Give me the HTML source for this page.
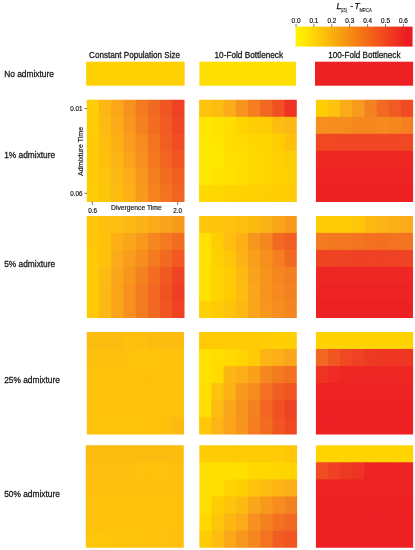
<!DOCTYPE html>
<html><head><meta charset="utf-8"><title>Figure</title>
<style>html,body{margin:0;padding:0;background:#fff}svg{display:block}text{font-family:"Liberation Sans",sans-serif;fill:#1a1718;stroke:#1a1718;stroke-width:0.2px;stroke-linejoin:round}</style></head><body>
<svg width="415" height="550" viewBox="0 0 415 550">
<rect width="415" height="550" fill="#fff"/>
<defs><linearGradient id="cb" x1="0" x2="1" y1="0" y2="0">
<stop offset="3%" stop-color="#fff200"/><stop offset="95%" stop-color="#ed1c24"/>
</linearGradient></defs>
<rect x="295.6" y="26.6" width="117.0" height="20.0" fill="url(#cb)"/>
<line x1="296.0" x2="296.0" y1="24.0" y2="26.9" stroke="#231f20" style="stroke-width:0.6px"/>
<line x1="313.9" x2="313.9" y1="24.0" y2="26.9" stroke="#231f20" style="stroke-width:0.6px"/>
<line x1="331.8" x2="331.8" y1="24.0" y2="26.9" stroke="#231f20" style="stroke-width:0.6px"/>
<line x1="349.7" x2="349.7" y1="24.0" y2="26.9" stroke="#231f20" style="stroke-width:0.6px"/>
<line x1="367.6" x2="367.6" y1="24.0" y2="26.9" stroke="#231f20" style="stroke-width:0.6px"/>
<line x1="385.5" x2="385.5" y1="24.0" y2="26.9" stroke="#231f20" style="stroke-width:0.6px"/>
<line x1="403.4" x2="403.4" y1="24.0" y2="26.9" stroke="#231f20" style="stroke-width:0.6px"/>
<rect x="86.2" y="61.7" width="98.45" height="24.00" fill="#ffd002"/>
<rect x="199.4" y="61.7" width="96.60" height="24.00" fill="#ffdf00"/>
<rect x="315.0" y="61.7" width="98.10" height="24.00" fill="#ed2024"/>
<clipPath id="k00"><rect x="86.8" y="99.8" width="97.70" height="102.10"/></clipPath>
<g clip-path="url(#k00)" opacity="0.999">
<rect x="84.80" y="97.80" width="15.41" height="20.22" fill="#ffcd04"/>
<rect x="99.01" y="97.80" width="13.41" height="20.22" fill="#fdb714"/>
<rect x="111.22" y="97.80" width="13.41" height="20.22" fill="#faa819"/>
<rect x="123.44" y="97.80" width="13.41" height="20.22" fill="#f7921d"/>
<rect x="135.65" y="97.80" width="13.41" height="20.22" fill="#f47a20"/>
<rect x="147.86" y="97.80" width="13.41" height="20.22" fill="#f26921"/>
<rect x="160.07" y="97.80" width="13.41" height="20.22" fill="#f15522"/>
<rect x="172.29" y="97.80" width="14.21" height="20.22" fill="#ef4123"/>
<rect x="84.80" y="116.82" width="15.41" height="18.22" fill="#ffcd04"/>
<rect x="99.01" y="116.82" width="13.41" height="18.22" fill="#fdbb12"/>
<rect x="111.22" y="116.82" width="13.41" height="18.22" fill="#fbac18"/>
<rect x="123.44" y="116.82" width="13.41" height="18.22" fill="#f8981c"/>
<rect x="135.65" y="116.82" width="13.41" height="18.22" fill="#f58220"/>
<rect x="147.86" y="116.82" width="13.41" height="18.22" fill="#f36d21"/>
<rect x="160.07" y="116.82" width="13.41" height="18.22" fill="#f15a22"/>
<rect x="172.29" y="116.82" width="14.21" height="18.22" fill="#ef4623"/>
<rect x="84.80" y="133.83" width="15.41" height="18.22" fill="#ffcb05"/>
<rect x="99.01" y="133.83" width="13.41" height="18.22" fill="#febe0f"/>
<rect x="111.22" y="133.83" width="13.41" height="18.22" fill="#fcb016"/>
<rect x="123.44" y="133.83" width="13.41" height="18.22" fill="#f89d1c"/>
<rect x="135.65" y="133.83" width="13.41" height="18.22" fill="#f68b1e"/>
<rect x="147.86" y="133.83" width="13.41" height="18.22" fill="#f37321"/>
<rect x="160.07" y="133.83" width="13.41" height="18.22" fill="#f15e22"/>
<rect x="172.29" y="133.83" width="14.21" height="18.22" fill="#f04e22"/>
<rect x="84.80" y="150.85" width="15.41" height="18.22" fill="#ffcb05"/>
<rect x="99.01" y="150.85" width="13.41" height="18.22" fill="#fec00d"/>
<rect x="111.22" y="150.85" width="13.41" height="18.22" fill="#fcb514"/>
<rect x="123.44" y="150.85" width="13.41" height="18.22" fill="#faa41a"/>
<rect x="135.65" y="150.85" width="13.41" height="18.22" fill="#f7901e"/>
<rect x="147.86" y="150.85" width="13.41" height="18.22" fill="#f47820"/>
<rect x="160.07" y="150.85" width="13.41" height="18.22" fill="#f26422"/>
<rect x="172.29" y="150.85" width="14.21" height="18.22" fill="#f15522"/>
<rect x="84.80" y="167.87" width="15.41" height="18.22" fill="#ffcb05"/>
<rect x="99.01" y="167.87" width="13.41" height="18.22" fill="#fec40b"/>
<rect x="111.22" y="167.87" width="13.41" height="18.22" fill="#fdb913"/>
<rect x="123.44" y="167.87" width="13.41" height="18.22" fill="#fbac18"/>
<rect x="135.65" y="167.87" width="13.41" height="18.22" fill="#f7961d"/>
<rect x="147.86" y="167.87" width="13.41" height="18.22" fill="#f57e20"/>
<rect x="160.07" y="167.87" width="13.41" height="18.22" fill="#f36d21"/>
<rect x="172.29" y="167.87" width="14.21" height="18.22" fill="#f15e22"/>
<rect x="84.80" y="184.88" width="15.41" height="19.02" fill="#ffcd04"/>
<rect x="99.01" y="184.88" width="13.41" height="19.02" fill="#fec609"/>
<rect x="111.22" y="184.88" width="13.41" height="19.02" fill="#fdbd10"/>
<rect x="123.44" y="184.88" width="13.41" height="19.02" fill="#fcb116"/>
<rect x="135.65" y="184.88" width="13.41" height="19.02" fill="#f89b1c"/>
<rect x="147.86" y="184.88" width="13.41" height="19.02" fill="#f58420"/>
<rect x="160.07" y="184.88" width="13.41" height="19.02" fill="#f37321"/>
<rect x="172.29" y="184.88" width="14.21" height="19.02" fill="#f26422"/>
</g>
<clipPath id="k01"><rect x="199.1" y="99.8" width="97.70" height="102.10"/></clipPath>
<g clip-path="url(#k01)" opacity="0.999">
<rect x="197.10" y="97.80" width="15.41" height="20.22" fill="#fec40b"/>
<rect x="211.31" y="97.80" width="13.41" height="20.22" fill="#fdbd10"/>
<rect x="223.53" y="97.80" width="13.41" height="20.22" fill="#fbac18"/>
<rect x="235.74" y="97.80" width="13.41" height="20.22" fill="#f7941d"/>
<rect x="247.95" y="97.80" width="13.41" height="20.22" fill="#f57e20"/>
<rect x="260.16" y="97.80" width="13.41" height="20.22" fill="#f26721"/>
<rect x="272.38" y="97.80" width="13.41" height="20.22" fill="#f05022"/>
<rect x="284.59" y="97.80" width="14.21" height="20.22" fill="#ee3223"/>
<rect x="197.10" y="116.82" width="15.41" height="18.22" fill="#ffe600"/>
<rect x="211.31" y="116.82" width="13.41" height="18.22" fill="#ffe200"/>
<rect x="223.53" y="116.82" width="13.41" height="18.22" fill="#ffdd00"/>
<rect x="235.74" y="116.82" width="13.41" height="18.22" fill="#ffd400"/>
<rect x="247.95" y="116.82" width="13.41" height="18.22" fill="#ffcd04"/>
<rect x="260.16" y="116.82" width="13.41" height="18.22" fill="#ffcb05"/>
<rect x="272.38" y="116.82" width="13.41" height="18.22" fill="#fdbd10"/>
<rect x="284.59" y="116.82" width="14.21" height="18.22" fill="#fdb913"/>
<rect x="197.10" y="133.83" width="15.41" height="18.22" fill="#ffe800"/>
<rect x="211.31" y="133.83" width="13.41" height="18.22" fill="#ffe600"/>
<rect x="223.53" y="133.83" width="13.41" height="18.22" fill="#ffdd00"/>
<rect x="235.74" y="133.83" width="13.41" height="18.22" fill="#ffdb00"/>
<rect x="247.95" y="133.83" width="13.41" height="18.22" fill="#ffd600"/>
<rect x="260.16" y="133.83" width="13.41" height="18.22" fill="#ffd400"/>
<rect x="272.38" y="133.83" width="13.41" height="18.22" fill="#ffcd04"/>
<rect x="284.59" y="133.83" width="14.21" height="18.22" fill="#fec00d"/>
<rect x="197.10" y="150.85" width="15.41" height="18.22" fill="#ffe800"/>
<rect x="211.31" y="150.85" width="13.41" height="18.22" fill="#ffe800"/>
<rect x="223.53" y="150.85" width="13.41" height="18.22" fill="#ffdf00"/>
<rect x="235.74" y="150.85" width="13.41" height="18.22" fill="#ffdd00"/>
<rect x="247.95" y="150.85" width="13.41" height="18.22" fill="#ffd800"/>
<rect x="260.16" y="150.85" width="13.41" height="18.22" fill="#ffd600"/>
<rect x="272.38" y="150.85" width="13.41" height="18.22" fill="#ffd002"/>
<rect x="284.59" y="150.85" width="14.21" height="18.22" fill="#ffcd04"/>
<rect x="197.10" y="167.87" width="15.41" height="18.22" fill="#ffe800"/>
<rect x="211.31" y="167.87" width="13.41" height="18.22" fill="#ffe100"/>
<rect x="223.53" y="167.87" width="13.41" height="18.22" fill="#ffe100"/>
<rect x="235.74" y="167.87" width="13.41" height="18.22" fill="#ffdd00"/>
<rect x="247.95" y="167.87" width="13.41" height="18.22" fill="#ffd800"/>
<rect x="260.16" y="167.87" width="13.41" height="18.22" fill="#ffd600"/>
<rect x="272.38" y="167.87" width="13.41" height="18.22" fill="#ffd002"/>
<rect x="284.59" y="167.87" width="14.21" height="18.22" fill="#ffcf03"/>
<rect x="197.10" y="184.88" width="15.41" height="19.02" fill="#ffd800"/>
<rect x="211.31" y="184.88" width="13.41" height="19.02" fill="#ffd800"/>
<rect x="223.53" y="184.88" width="13.41" height="19.02" fill="#ffd400"/>
<rect x="235.74" y="184.88" width="13.41" height="19.02" fill="#ffd201"/>
<rect x="247.95" y="184.88" width="13.41" height="19.02" fill="#ffd002"/>
<rect x="260.16" y="184.88" width="13.41" height="19.02" fill="#ffcf03"/>
<rect x="272.38" y="184.88" width="13.41" height="19.02" fill="#ffcd04"/>
<rect x="284.59" y="184.88" width="14.21" height="19.02" fill="#ffcb05"/>
</g>
<clipPath id="k02"><rect x="315.9" y="99.8" width="97.20" height="102.10"/></clipPath>
<g clip-path="url(#k02)" opacity="0.999">
<rect x="313.90" y="97.80" width="15.35" height="20.22" fill="#ffcd04"/>
<rect x="328.05" y="97.80" width="13.35" height="20.22" fill="#fec20c"/>
<rect x="340.20" y="97.80" width="13.35" height="20.22" fill="#fbaa19"/>
<rect x="352.35" y="97.80" width="13.35" height="20.22" fill="#f89b1c"/>
<rect x="364.50" y="97.80" width="13.35" height="20.22" fill="#f58220"/>
<rect x="376.65" y="97.80" width="13.35" height="20.22" fill="#f26921"/>
<rect x="388.80" y="97.80" width="13.35" height="20.22" fill="#f15a22"/>
<rect x="400.95" y="97.80" width="14.15" height="20.22" fill="#f04b23"/>
<rect x="313.90" y="116.82" width="15.35" height="18.22" fill="#f68f1e"/>
<rect x="328.05" y="116.82" width="13.35" height="18.22" fill="#f68d1e"/>
<rect x="340.20" y="116.82" width="13.35" height="18.22" fill="#f68b1e"/>
<rect x="352.35" y="116.82" width="13.35" height="18.22" fill="#f6871f"/>
<rect x="364.50" y="116.82" width="13.35" height="18.22" fill="#f6871f"/>
<rect x="376.65" y="116.82" width="13.35" height="18.22" fill="#f6891f"/>
<rect x="388.80" y="116.82" width="13.35" height="18.22" fill="#f6871f"/>
<rect x="400.95" y="116.82" width="14.15" height="18.22" fill="#f57e20"/>
<rect x="313.90" y="133.83" width="15.35" height="18.22" fill="#f04823"/>
<rect x="328.05" y="133.83" width="13.35" height="18.22" fill="#f04823"/>
<rect x="340.20" y="133.83" width="13.35" height="18.22" fill="#ef4623"/>
<rect x="352.35" y="133.83" width="13.35" height="18.22" fill="#ef4623"/>
<rect x="364.50" y="133.83" width="13.35" height="18.22" fill="#ef4623"/>
<rect x="376.65" y="133.83" width="13.35" height="18.22" fill="#ef4623"/>
<rect x="388.80" y="133.83" width="13.35" height="18.22" fill="#ef4623"/>
<rect x="400.95" y="133.83" width="14.15" height="18.22" fill="#f04823"/>
<rect x="313.90" y="150.85" width="15.35" height="18.22" fill="#ee2724"/>
<rect x="328.05" y="150.85" width="13.35" height="18.22" fill="#ee2724"/>
<rect x="340.20" y="150.85" width="13.35" height="18.22" fill="#ee2724"/>
<rect x="352.35" y="150.85" width="13.35" height="18.22" fill="#ee2724"/>
<rect x="364.50" y="150.85" width="13.35" height="18.22" fill="#ee2724"/>
<rect x="376.65" y="150.85" width="13.35" height="18.22" fill="#ee2724"/>
<rect x="388.80" y="150.85" width="13.35" height="18.22" fill="#ee2724"/>
<rect x="400.95" y="150.85" width="14.15" height="18.22" fill="#ee2724"/>
<rect x="313.90" y="167.87" width="15.35" height="18.22" fill="#ed2324"/>
<rect x="328.05" y="167.87" width="13.35" height="18.22" fill="#ed2324"/>
<rect x="340.20" y="167.87" width="13.35" height="18.22" fill="#ed2324"/>
<rect x="352.35" y="167.87" width="13.35" height="18.22" fill="#ed2324"/>
<rect x="364.50" y="167.87" width="13.35" height="18.22" fill="#ed2324"/>
<rect x="376.65" y="167.87" width="13.35" height="18.22" fill="#ed2324"/>
<rect x="388.80" y="167.87" width="13.35" height="18.22" fill="#ed2324"/>
<rect x="400.95" y="167.87" width="14.15" height="18.22" fill="#ed2324"/>
<rect x="313.90" y="184.88" width="15.35" height="19.02" fill="#ed2024"/>
<rect x="328.05" y="184.88" width="13.35" height="19.02" fill="#ed2024"/>
<rect x="340.20" y="184.88" width="13.35" height="19.02" fill="#ed2024"/>
<rect x="352.35" y="184.88" width="13.35" height="19.02" fill="#ed2024"/>
<rect x="364.50" y="184.88" width="13.35" height="19.02" fill="#ed2024"/>
<rect x="376.65" y="184.88" width="13.35" height="19.02" fill="#ed2024"/>
<rect x="388.80" y="184.88" width="13.35" height="19.02" fill="#ed2024"/>
<rect x="400.95" y="184.88" width="14.15" height="19.02" fill="#ed2024"/>
</g>
<clipPath id="k10"><rect x="86.8" y="215.9" width="97.70" height="102.00"/></clipPath>
<g clip-path="url(#k10)" opacity="0.999">
<rect x="84.80" y="213.90" width="15.41" height="20.20" fill="#ffc708"/>
<rect x="99.01" y="213.90" width="13.41" height="20.20" fill="#fec00d"/>
<rect x="111.22" y="213.90" width="13.41" height="20.20" fill="#febe0f"/>
<rect x="123.44" y="213.90" width="13.41" height="20.20" fill="#fdb913"/>
<rect x="135.65" y="213.90" width="13.41" height="20.20" fill="#fcb315"/>
<rect x="147.86" y="213.90" width="13.41" height="20.20" fill="#fbaa19"/>
<rect x="160.07" y="213.90" width="13.41" height="20.20" fill="#f9a21b"/>
<rect x="172.29" y="213.90" width="14.21" height="20.20" fill="#f89b1c"/>
<rect x="84.80" y="232.90" width="15.41" height="18.20" fill="#ffc708"/>
<rect x="99.01" y="232.90" width="13.41" height="18.20" fill="#fec20c"/>
<rect x="111.22" y="232.90" width="13.41" height="18.20" fill="#fcb016"/>
<rect x="123.44" y="232.90" width="13.41" height="18.20" fill="#faa61a"/>
<rect x="135.65" y="232.90" width="13.41" height="18.20" fill="#f8991c"/>
<rect x="147.86" y="232.90" width="13.41" height="18.20" fill="#f6871f"/>
<rect x="160.07" y="232.90" width="13.41" height="18.20" fill="#f47a20"/>
<rect x="172.29" y="232.90" width="14.21" height="18.20" fill="#f36d21"/>
<rect x="84.80" y="249.90" width="15.41" height="18.20" fill="#ffc906"/>
<rect x="99.01" y="249.90" width="13.41" height="18.20" fill="#fec20c"/>
<rect x="111.22" y="249.90" width="13.41" height="18.20" fill="#fbaa19"/>
<rect x="123.44" y="249.90" width="13.41" height="18.20" fill="#f89d1c"/>
<rect x="135.65" y="249.90" width="13.41" height="18.20" fill="#f68d1e"/>
<rect x="147.86" y="249.90" width="13.41" height="18.20" fill="#f47a20"/>
<rect x="160.07" y="249.90" width="13.41" height="18.20" fill="#f26921"/>
<rect x="172.29" y="249.90" width="14.21" height="18.20" fill="#f15822"/>
<rect x="84.80" y="266.90" width="15.41" height="18.20" fill="#ffc906"/>
<rect x="99.01" y="266.90" width="13.41" height="18.20" fill="#fdbb12"/>
<rect x="111.22" y="266.90" width="13.41" height="18.20" fill="#faa61a"/>
<rect x="123.44" y="266.90" width="13.41" height="18.20" fill="#f7961d"/>
<rect x="135.65" y="266.90" width="13.41" height="18.20" fill="#f58220"/>
<rect x="147.86" y="266.90" width="13.41" height="18.20" fill="#f36d21"/>
<rect x="160.07" y="266.90" width="13.41" height="18.20" fill="#f15822"/>
<rect x="172.29" y="266.90" width="14.21" height="18.20" fill="#ef4423"/>
<rect x="84.80" y="283.90" width="15.41" height="18.20" fill="#ffc906"/>
<rect x="99.01" y="283.90" width="13.41" height="18.20" fill="#fdb913"/>
<rect x="111.22" y="283.90" width="13.41" height="18.20" fill="#faa41a"/>
<rect x="123.44" y="283.90" width="13.41" height="18.20" fill="#f7901e"/>
<rect x="135.65" y="283.90" width="13.41" height="18.20" fill="#f47a20"/>
<rect x="147.86" y="283.90" width="13.41" height="18.20" fill="#f26721"/>
<rect x="160.07" y="283.90" width="13.41" height="18.20" fill="#f05222"/>
<rect x="172.29" y="283.90" width="14.21" height="18.20" fill="#ef3d23"/>
<rect x="84.80" y="300.90" width="15.41" height="19.00" fill="#ffc906"/>
<rect x="99.01" y="300.90" width="13.41" height="19.00" fill="#fdb913"/>
<rect x="111.22" y="300.90" width="13.41" height="19.00" fill="#faa41a"/>
<rect x="123.44" y="300.90" width="13.41" height="19.00" fill="#f7901e"/>
<rect x="135.65" y="300.90" width="13.41" height="19.00" fill="#f47c20"/>
<rect x="147.86" y="300.90" width="13.41" height="19.00" fill="#f26921"/>
<rect x="160.07" y="300.90" width="13.41" height="19.00" fill="#f15522"/>
<rect x="172.29" y="300.90" width="14.21" height="19.00" fill="#ef4123"/>
</g>
<clipPath id="k11"><rect x="199.1" y="215.9" width="97.70" height="102.00"/></clipPath>
<g clip-path="url(#k11)" opacity="0.999">
<rect x="197.10" y="213.90" width="15.41" height="20.20" fill="#fec609"/>
<rect x="211.31" y="213.90" width="13.41" height="20.20" fill="#fec40b"/>
<rect x="223.53" y="213.90" width="13.41" height="20.20" fill="#fec20c"/>
<rect x="235.74" y="213.90" width="13.41" height="20.20" fill="#febe0f"/>
<rect x="247.95" y="213.90" width="13.41" height="20.20" fill="#fdbb12"/>
<rect x="260.16" y="213.90" width="13.41" height="20.20" fill="#fcb315"/>
<rect x="272.38" y="213.90" width="13.41" height="20.20" fill="#faa61a"/>
<rect x="284.59" y="213.90" width="14.21" height="20.20" fill="#f89b1c"/>
<rect x="197.10" y="232.90" width="15.41" height="18.20" fill="#ffe100"/>
<rect x="211.31" y="232.90" width="13.41" height="18.20" fill="#ffcd04"/>
<rect x="223.53" y="232.90" width="13.41" height="18.20" fill="#febe0f"/>
<rect x="235.74" y="232.90" width="13.41" height="18.20" fill="#fcb016"/>
<rect x="247.95" y="232.90" width="13.41" height="18.20" fill="#f7961d"/>
<rect x="260.16" y="232.90" width="13.41" height="18.20" fill="#f6871f"/>
<rect x="272.38" y="232.90" width="13.41" height="18.20" fill="#f26921"/>
<rect x="284.59" y="232.90" width="14.21" height="18.20" fill="#f15e22"/>
<rect x="197.10" y="249.90" width="15.41" height="18.20" fill="#ffe100"/>
<rect x="211.31" y="249.90" width="13.41" height="18.20" fill="#ffd002"/>
<rect x="223.53" y="249.90" width="13.41" height="18.20" fill="#fec609"/>
<rect x="235.74" y="249.90" width="13.41" height="18.20" fill="#fcb315"/>
<rect x="247.95" y="249.90" width="13.41" height="18.20" fill="#f99f1b"/>
<rect x="260.16" y="249.90" width="13.41" height="18.20" fill="#f68f1e"/>
<rect x="272.38" y="249.90" width="13.41" height="18.20" fill="#f57e20"/>
<rect x="284.59" y="249.90" width="14.21" height="18.20" fill="#f26921"/>
<rect x="197.10" y="266.90" width="15.41" height="18.20" fill="#ffe100"/>
<rect x="211.31" y="266.90" width="13.41" height="18.20" fill="#ffd400"/>
<rect x="223.53" y="266.90" width="13.41" height="18.20" fill="#ffcb05"/>
<rect x="235.74" y="266.90" width="13.41" height="18.20" fill="#fdbb12"/>
<rect x="247.95" y="266.90" width="13.41" height="18.20" fill="#f9a21b"/>
<rect x="260.16" y="266.90" width="13.41" height="18.20" fill="#f7921d"/>
<rect x="272.38" y="266.90" width="13.41" height="18.20" fill="#f6871f"/>
<rect x="284.59" y="266.90" width="14.21" height="18.20" fill="#f57e20"/>
<rect x="197.10" y="283.90" width="15.41" height="18.20" fill="#ffe100"/>
<rect x="211.31" y="283.90" width="13.41" height="18.20" fill="#ffd400"/>
<rect x="223.53" y="283.90" width="13.41" height="18.20" fill="#ffcb05"/>
<rect x="235.74" y="283.90" width="13.41" height="18.20" fill="#fdbd10"/>
<rect x="247.95" y="283.90" width="13.41" height="18.20" fill="#faa61a"/>
<rect x="260.16" y="283.90" width="13.41" height="18.20" fill="#f7941d"/>
<rect x="272.38" y="283.90" width="13.41" height="18.20" fill="#f6891f"/>
<rect x="284.59" y="283.90" width="14.21" height="18.20" fill="#f58220"/>
<rect x="197.10" y="300.90" width="15.41" height="19.00" fill="#ffd002"/>
<rect x="211.31" y="300.90" width="13.41" height="19.00" fill="#ffcb05"/>
<rect x="223.53" y="300.90" width="13.41" height="19.00" fill="#fec40b"/>
<rect x="235.74" y="300.90" width="13.41" height="19.00" fill="#fdb913"/>
<rect x="247.95" y="300.90" width="13.41" height="19.00" fill="#faa41a"/>
<rect x="260.16" y="300.90" width="13.41" height="19.00" fill="#f7961d"/>
<rect x="272.38" y="300.90" width="13.41" height="19.00" fill="#f68d1e"/>
<rect x="284.59" y="300.90" width="14.21" height="19.00" fill="#f5861f"/>
</g>
<clipPath id="k12"><rect x="315.9" y="215.9" width="97.20" height="102.00"/></clipPath>
<g clip-path="url(#k12)" opacity="0.999">
<rect x="313.90" y="213.90" width="15.35" height="20.20" fill="#ffcb05"/>
<rect x="328.05" y="213.90" width="13.35" height="20.20" fill="#ffcb05"/>
<rect x="340.20" y="213.90" width="13.35" height="20.20" fill="#ffc906"/>
<rect x="352.35" y="213.90" width="13.35" height="20.20" fill="#fec609"/>
<rect x="364.50" y="213.90" width="13.35" height="20.20" fill="#fdbb12"/>
<rect x="376.65" y="213.90" width="13.35" height="20.20" fill="#fcb315"/>
<rect x="388.80" y="213.90" width="13.35" height="20.20" fill="#fcb016"/>
<rect x="400.95" y="213.90" width="14.15" height="20.20" fill="#fbaa19"/>
<rect x="313.90" y="232.90" width="15.35" height="18.20" fill="#f47a20"/>
<rect x="328.05" y="232.90" width="13.35" height="18.20" fill="#f47820"/>
<rect x="340.20" y="232.90" width="13.35" height="18.20" fill="#f47721"/>
<rect x="352.35" y="232.90" width="13.35" height="18.20" fill="#f47521"/>
<rect x="364.50" y="232.90" width="13.35" height="18.20" fill="#f37121"/>
<rect x="376.65" y="232.90" width="13.35" height="18.20" fill="#f36f21"/>
<rect x="388.80" y="232.90" width="13.35" height="18.20" fill="#f37321"/>
<rect x="400.95" y="232.90" width="14.15" height="18.20" fill="#f47521"/>
<rect x="313.90" y="249.90" width="15.35" height="18.20" fill="#ef4423"/>
<rect x="328.05" y="249.90" width="13.35" height="18.20" fill="#ef4423"/>
<rect x="340.20" y="249.90" width="13.35" height="18.20" fill="#ef4123"/>
<rect x="352.35" y="249.90" width="13.35" height="18.20" fill="#ef4123"/>
<rect x="364.50" y="249.90" width="13.35" height="18.20" fill="#ef4123"/>
<rect x="376.65" y="249.90" width="13.35" height="18.20" fill="#ef4123"/>
<rect x="388.80" y="249.90" width="13.35" height="18.20" fill="#ef4123"/>
<rect x="400.95" y="249.90" width="14.15" height="18.20" fill="#ef4423"/>
<rect x="313.90" y="266.90" width="15.35" height="18.20" fill="#ee2724"/>
<rect x="328.05" y="266.90" width="13.35" height="18.20" fill="#ee2724"/>
<rect x="340.20" y="266.90" width="13.35" height="18.20" fill="#ee2724"/>
<rect x="352.35" y="266.90" width="13.35" height="18.20" fill="#ee2724"/>
<rect x="364.50" y="266.90" width="13.35" height="18.20" fill="#ee2724"/>
<rect x="376.65" y="266.90" width="13.35" height="18.20" fill="#ee2724"/>
<rect x="388.80" y="266.90" width="13.35" height="18.20" fill="#ee2724"/>
<rect x="400.95" y="266.90" width="14.15" height="18.20" fill="#ee2724"/>
<rect x="313.90" y="283.90" width="15.35" height="18.20" fill="#ed2324"/>
<rect x="328.05" y="283.90" width="13.35" height="18.20" fill="#ed2324"/>
<rect x="340.20" y="283.90" width="13.35" height="18.20" fill="#ed2324"/>
<rect x="352.35" y="283.90" width="13.35" height="18.20" fill="#ed2324"/>
<rect x="364.50" y="283.90" width="13.35" height="18.20" fill="#ed2324"/>
<rect x="376.65" y="283.90" width="13.35" height="18.20" fill="#ed2324"/>
<rect x="388.80" y="283.90" width="13.35" height="18.20" fill="#ed2324"/>
<rect x="400.95" y="283.90" width="14.15" height="18.20" fill="#ed2324"/>
<rect x="313.90" y="300.90" width="15.35" height="19.00" fill="#ed2024"/>
<rect x="328.05" y="300.90" width="13.35" height="19.00" fill="#ed2024"/>
<rect x="340.20" y="300.90" width="13.35" height="19.00" fill="#ed2024"/>
<rect x="352.35" y="300.90" width="13.35" height="19.00" fill="#ed2024"/>
<rect x="364.50" y="300.90" width="13.35" height="19.00" fill="#ed2024"/>
<rect x="376.65" y="300.90" width="13.35" height="19.00" fill="#ed2024"/>
<rect x="388.80" y="300.90" width="13.35" height="19.00" fill="#ed2024"/>
<rect x="400.95" y="300.90" width="14.15" height="19.00" fill="#ed2024"/>
</g>
<clipPath id="k20"><rect x="86.8" y="331.9" width="97.20" height="102.50"/></clipPath>
<g clip-path="url(#k20)" opacity="0.999">
<rect x="84.80" y="329.90" width="15.35" height="20.28" fill="#fdbd10"/>
<rect x="98.95" y="329.90" width="13.35" height="20.28" fill="#fdbd10"/>
<rect x="111.10" y="329.90" width="13.35" height="20.28" fill="#fdbd10"/>
<rect x="123.25" y="329.90" width="13.35" height="20.28" fill="#fec00d"/>
<rect x="135.40" y="329.90" width="13.35" height="20.28" fill="#fec00d"/>
<rect x="147.55" y="329.90" width="13.35" height="20.28" fill="#fdbd10"/>
<rect x="159.70" y="329.90" width="13.35" height="20.28" fill="#fdbd10"/>
<rect x="171.85" y="329.90" width="14.15" height="20.28" fill="#fdbd10"/>
<rect x="84.80" y="348.98" width="15.35" height="18.28" fill="#fec00d"/>
<rect x="98.95" y="348.98" width="13.35" height="18.28" fill="#fec00d"/>
<rect x="111.10" y="348.98" width="13.35" height="18.28" fill="#fec00d"/>
<rect x="123.25" y="348.98" width="13.35" height="18.28" fill="#fec20c"/>
<rect x="135.40" y="348.98" width="13.35" height="18.28" fill="#fec40b"/>
<rect x="147.55" y="348.98" width="13.35" height="18.28" fill="#fec20c"/>
<rect x="159.70" y="348.98" width="13.35" height="18.28" fill="#fec20c"/>
<rect x="171.85" y="348.98" width="14.15" height="18.28" fill="#fec20c"/>
<rect x="84.80" y="366.07" width="15.35" height="18.28" fill="#fec20c"/>
<rect x="98.95" y="366.07" width="13.35" height="18.28" fill="#fec20c"/>
<rect x="111.10" y="366.07" width="13.35" height="18.28" fill="#fec20c"/>
<rect x="123.25" y="366.07" width="13.35" height="18.28" fill="#fec20c"/>
<rect x="135.40" y="366.07" width="13.35" height="18.28" fill="#fec20c"/>
<rect x="147.55" y="366.07" width="13.35" height="18.28" fill="#fec20c"/>
<rect x="159.70" y="366.07" width="13.35" height="18.28" fill="#fec20c"/>
<rect x="171.85" y="366.07" width="14.15" height="18.28" fill="#fec20c"/>
<rect x="84.80" y="383.15" width="15.35" height="18.28" fill="#fec20c"/>
<rect x="98.95" y="383.15" width="13.35" height="18.28" fill="#fec20c"/>
<rect x="111.10" y="383.15" width="13.35" height="18.28" fill="#fec20c"/>
<rect x="123.25" y="383.15" width="13.35" height="18.28" fill="#fec20c"/>
<rect x="135.40" y="383.15" width="13.35" height="18.28" fill="#fec20c"/>
<rect x="147.55" y="383.15" width="13.35" height="18.28" fill="#fec20c"/>
<rect x="159.70" y="383.15" width="13.35" height="18.28" fill="#fec20c"/>
<rect x="171.85" y="383.15" width="14.15" height="18.28" fill="#fec20c"/>
<rect x="84.80" y="400.23" width="15.35" height="18.28" fill="#fec20c"/>
<rect x="98.95" y="400.23" width="13.35" height="18.28" fill="#fec20c"/>
<rect x="111.10" y="400.23" width="13.35" height="18.28" fill="#fec20c"/>
<rect x="123.25" y="400.23" width="13.35" height="18.28" fill="#fec20c"/>
<rect x="135.40" y="400.23" width="13.35" height="18.28" fill="#fec20c"/>
<rect x="147.55" y="400.23" width="13.35" height="18.28" fill="#fec20c"/>
<rect x="159.70" y="400.23" width="13.35" height="18.28" fill="#fec20c"/>
<rect x="171.85" y="400.23" width="14.15" height="18.28" fill="#fec20c"/>
<rect x="84.80" y="417.32" width="15.35" height="19.08" fill="#fec40b"/>
<rect x="98.95" y="417.32" width="13.35" height="19.08" fill="#fec40b"/>
<rect x="111.10" y="417.32" width="13.35" height="19.08" fill="#fec40b"/>
<rect x="123.25" y="417.32" width="13.35" height="19.08" fill="#fec40b"/>
<rect x="135.40" y="417.32" width="13.35" height="19.08" fill="#fec20c"/>
<rect x="147.55" y="417.32" width="13.35" height="19.08" fill="#fec20c"/>
<rect x="159.70" y="417.32" width="13.35" height="19.08" fill="#fec00d"/>
<rect x="171.85" y="417.32" width="14.15" height="19.08" fill="#fdbb12"/>
</g>
<clipPath id="k21"><rect x="199.1" y="331.9" width="97.70" height="102.50"/></clipPath>
<g clip-path="url(#k21)" opacity="0.999">
<rect x="197.10" y="329.90" width="15.41" height="20.28" fill="#ffc906"/>
<rect x="211.31" y="329.90" width="13.41" height="20.28" fill="#ffcb05"/>
<rect x="223.53" y="329.90" width="13.41" height="20.28" fill="#ffcb05"/>
<rect x="235.74" y="329.90" width="13.41" height="20.28" fill="#ffcb05"/>
<rect x="247.95" y="329.90" width="13.41" height="20.28" fill="#ffcb05"/>
<rect x="260.16" y="329.90" width="13.41" height="20.28" fill="#ffcd04"/>
<rect x="272.38" y="329.90" width="13.41" height="20.28" fill="#ffcf03"/>
<rect x="284.59" y="329.90" width="14.21" height="20.28" fill="#ffcf03"/>
<rect x="197.10" y="348.98" width="15.41" height="18.28" fill="#ffe100"/>
<rect x="211.31" y="348.98" width="13.41" height="18.28" fill="#ffdd00"/>
<rect x="223.53" y="348.98" width="13.41" height="18.28" fill="#ffd900"/>
<rect x="235.74" y="348.98" width="13.41" height="18.28" fill="#ffd400"/>
<rect x="247.95" y="348.98" width="13.41" height="18.28" fill="#ffcb05"/>
<rect x="260.16" y="348.98" width="13.41" height="18.28" fill="#fcb514"/>
<rect x="272.38" y="348.98" width="13.41" height="18.28" fill="#fbae17"/>
<rect x="284.59" y="348.98" width="14.21" height="18.28" fill="#faa61a"/>
<rect x="197.10" y="366.07" width="15.41" height="18.28" fill="#ffe100"/>
<rect x="211.31" y="366.07" width="13.41" height="18.28" fill="#ffdb00"/>
<rect x="223.53" y="366.07" width="13.41" height="18.28" fill="#fdb714"/>
<rect x="235.74" y="366.07" width="13.41" height="18.28" fill="#fbae17"/>
<rect x="247.95" y="366.07" width="13.41" height="18.28" fill="#f9a11b"/>
<rect x="260.16" y="366.07" width="13.41" height="18.28" fill="#f6871f"/>
<rect x="272.38" y="366.07" width="13.41" height="18.28" fill="#f47a20"/>
<rect x="284.59" y="366.07" width="14.21" height="18.28" fill="#f37121"/>
<rect x="197.10" y="383.15" width="15.41" height="18.28" fill="#ffdf00"/>
<rect x="211.31" y="383.15" width="13.41" height="18.28" fill="#fec40b"/>
<rect x="223.53" y="383.15" width="13.41" height="18.28" fill="#fcb116"/>
<rect x="235.74" y="383.15" width="13.41" height="18.28" fill="#f89b1c"/>
<rect x="247.95" y="383.15" width="13.41" height="18.28" fill="#f68b1e"/>
<rect x="260.16" y="383.15" width="13.41" height="18.28" fill="#f37121"/>
<rect x="272.38" y="383.15" width="13.41" height="18.28" fill="#f15e22"/>
<rect x="284.59" y="383.15" width="14.21" height="18.28" fill="#f15522"/>
<rect x="197.10" y="400.23" width="15.41" height="18.28" fill="#ffdd00"/>
<rect x="211.31" y="400.23" width="13.41" height="18.28" fill="#fdbd10"/>
<rect x="223.53" y="400.23" width="13.41" height="18.28" fill="#faa61a"/>
<rect x="235.74" y="400.23" width="13.41" height="18.28" fill="#f7941d"/>
<rect x="247.95" y="400.23" width="13.41" height="18.28" fill="#f58220"/>
<rect x="260.16" y="400.23" width="13.41" height="18.28" fill="#f26422"/>
<rect x="272.38" y="400.23" width="13.41" height="18.28" fill="#f05022"/>
<rect x="284.59" y="400.23" width="14.21" height="18.28" fill="#ef4123"/>
<rect x="197.10" y="417.32" width="15.41" height="19.08" fill="#ffc708"/>
<rect x="211.31" y="417.32" width="13.41" height="19.08" fill="#fcb514"/>
<rect x="223.53" y="417.32" width="13.41" height="19.08" fill="#faa41a"/>
<rect x="235.74" y="417.32" width="13.41" height="19.08" fill="#f7941d"/>
<rect x="247.95" y="417.32" width="13.41" height="19.08" fill="#f57e20"/>
<rect x="260.16" y="417.32" width="13.41" height="19.08" fill="#f36b21"/>
<rect x="272.38" y="417.32" width="13.41" height="19.08" fill="#f15522"/>
<rect x="284.59" y="417.32" width="14.21" height="19.08" fill="#f04823"/>
</g>
<clipPath id="k22"><rect x="315.9" y="331.9" width="97.20" height="102.50"/></clipPath>
<g clip-path="url(#k22)" opacity="0.999">
<rect x="313.90" y="329.90" width="15.35" height="20.28" fill="#ffd201"/>
<rect x="328.05" y="329.90" width="13.35" height="20.28" fill="#ffd201"/>
<rect x="340.20" y="329.90" width="13.35" height="20.28" fill="#ffd201"/>
<rect x="352.35" y="329.90" width="13.35" height="20.28" fill="#ffd201"/>
<rect x="364.50" y="329.90" width="13.35" height="20.28" fill="#ffd201"/>
<rect x="376.65" y="329.90" width="13.35" height="20.28" fill="#ffd201"/>
<rect x="388.80" y="329.90" width="13.35" height="20.28" fill="#ffd201"/>
<rect x="400.95" y="329.90" width="14.15" height="20.28" fill="#ffd201"/>
<rect x="313.90" y="348.98" width="15.35" height="18.28" fill="#f26721"/>
<rect x="328.05" y="348.98" width="13.35" height="18.28" fill="#f15522"/>
<rect x="340.20" y="348.98" width="13.35" height="18.28" fill="#f04823"/>
<rect x="352.35" y="348.98" width="13.35" height="18.28" fill="#ef4123"/>
<rect x="364.50" y="348.98" width="13.35" height="18.28" fill="#ef3a23"/>
<rect x="376.65" y="348.98" width="13.35" height="18.28" fill="#ee3623"/>
<rect x="388.80" y="348.98" width="13.35" height="18.28" fill="#ee3623"/>
<rect x="400.95" y="348.98" width="14.15" height="18.28" fill="#ee3623"/>
<rect x="313.90" y="366.07" width="15.35" height="18.28" fill="#ee3223"/>
<rect x="328.05" y="366.07" width="13.35" height="18.28" fill="#ee2b24"/>
<rect x="340.20" y="366.07" width="13.35" height="18.28" fill="#ee2724"/>
<rect x="352.35" y="366.07" width="13.35" height="18.28" fill="#ee2724"/>
<rect x="364.50" y="366.07" width="13.35" height="18.28" fill="#ee2724"/>
<rect x="376.65" y="366.07" width="13.35" height="18.28" fill="#ee2724"/>
<rect x="388.80" y="366.07" width="13.35" height="18.28" fill="#ee2724"/>
<rect x="400.95" y="366.07" width="14.15" height="18.28" fill="#ee2724"/>
<rect x="313.90" y="383.15" width="15.35" height="18.28" fill="#ed2324"/>
<rect x="328.05" y="383.15" width="13.35" height="18.28" fill="#ed2324"/>
<rect x="340.20" y="383.15" width="13.35" height="18.28" fill="#ed2324"/>
<rect x="352.35" y="383.15" width="13.35" height="18.28" fill="#ed2324"/>
<rect x="364.50" y="383.15" width="13.35" height="18.28" fill="#ed2324"/>
<rect x="376.65" y="383.15" width="13.35" height="18.28" fill="#ed2324"/>
<rect x="388.80" y="383.15" width="13.35" height="18.28" fill="#ed2324"/>
<rect x="400.95" y="383.15" width="14.15" height="18.28" fill="#ed2324"/>
<rect x="313.90" y="400.23" width="15.35" height="18.28" fill="#ed2024"/>
<rect x="328.05" y="400.23" width="13.35" height="18.28" fill="#ed2024"/>
<rect x="340.20" y="400.23" width="13.35" height="18.28" fill="#ed2024"/>
<rect x="352.35" y="400.23" width="13.35" height="18.28" fill="#ed2024"/>
<rect x="364.50" y="400.23" width="13.35" height="18.28" fill="#ed2024"/>
<rect x="376.65" y="400.23" width="13.35" height="18.28" fill="#ed2024"/>
<rect x="388.80" y="400.23" width="13.35" height="18.28" fill="#ed2024"/>
<rect x="400.95" y="400.23" width="14.15" height="18.28" fill="#ed2024"/>
<rect x="313.90" y="417.32" width="15.35" height="19.08" fill="#ed2024"/>
<rect x="328.05" y="417.32" width="13.35" height="19.08" fill="#ed2024"/>
<rect x="340.20" y="417.32" width="13.35" height="19.08" fill="#ed2024"/>
<rect x="352.35" y="417.32" width="13.35" height="19.08" fill="#ed2024"/>
<rect x="364.50" y="417.32" width="13.35" height="19.08" fill="#ed2024"/>
<rect x="376.65" y="417.32" width="13.35" height="19.08" fill="#ed2024"/>
<rect x="388.80" y="417.32" width="13.35" height="19.08" fill="#ed2024"/>
<rect x="400.95" y="417.32" width="14.15" height="19.08" fill="#ed2024"/>
</g>
<clipPath id="k30"><rect x="85.8" y="445.2" width="98.00" height="102.60"/></clipPath>
<g clip-path="url(#k30)" opacity="0.999">
<rect x="83.80" y="443.20" width="15.45" height="20.30" fill="#fdbd10"/>
<rect x="98.05" y="443.20" width="13.45" height="20.30" fill="#fdbd10"/>
<rect x="110.30" y="443.20" width="13.45" height="20.30" fill="#fdbd10"/>
<rect x="122.55" y="443.20" width="13.45" height="20.30" fill="#fdbd10"/>
<rect x="134.80" y="443.20" width="13.45" height="20.30" fill="#fdbd10"/>
<rect x="147.05" y="443.20" width="13.45" height="20.30" fill="#fdbd10"/>
<rect x="159.30" y="443.20" width="13.45" height="20.30" fill="#fdbd10"/>
<rect x="171.55" y="443.20" width="14.25" height="20.30" fill="#fdbd10"/>
<rect x="83.80" y="462.30" width="15.45" height="18.30" fill="#febe0f"/>
<rect x="98.05" y="462.30" width="13.45" height="18.30" fill="#febe0f"/>
<rect x="110.30" y="462.30" width="13.45" height="18.30" fill="#febe0f"/>
<rect x="122.55" y="462.30" width="13.45" height="18.30" fill="#fec00d"/>
<rect x="134.80" y="462.30" width="13.45" height="18.30" fill="#fec20c"/>
<rect x="147.05" y="462.30" width="13.45" height="18.30" fill="#fec20c"/>
<rect x="159.30" y="462.30" width="13.45" height="18.30" fill="#fec20c"/>
<rect x="171.55" y="462.30" width="14.25" height="18.30" fill="#fec00d"/>
<rect x="83.80" y="479.40" width="15.45" height="18.30" fill="#fec00d"/>
<rect x="98.05" y="479.40" width="13.45" height="18.30" fill="#fec00d"/>
<rect x="110.30" y="479.40" width="13.45" height="18.30" fill="#fec00d"/>
<rect x="122.55" y="479.40" width="13.45" height="18.30" fill="#fec00d"/>
<rect x="134.80" y="479.40" width="13.45" height="18.30" fill="#fec00d"/>
<rect x="147.05" y="479.40" width="13.45" height="18.30" fill="#fec00d"/>
<rect x="159.30" y="479.40" width="13.45" height="18.30" fill="#fec00d"/>
<rect x="171.55" y="479.40" width="14.25" height="18.30" fill="#fec00d"/>
<rect x="83.80" y="496.50" width="15.45" height="18.30" fill="#fec20c"/>
<rect x="98.05" y="496.50" width="13.45" height="18.30" fill="#fec20c"/>
<rect x="110.30" y="496.50" width="13.45" height="18.30" fill="#fec20c"/>
<rect x="122.55" y="496.50" width="13.45" height="18.30" fill="#fec20c"/>
<rect x="134.80" y="496.50" width="13.45" height="18.30" fill="#fec20c"/>
<rect x="147.05" y="496.50" width="13.45" height="18.30" fill="#fec20c"/>
<rect x="159.30" y="496.50" width="13.45" height="18.30" fill="#fec20c"/>
<rect x="171.55" y="496.50" width="14.25" height="18.30" fill="#fec20c"/>
<rect x="83.80" y="513.60" width="15.45" height="18.30" fill="#fec20c"/>
<rect x="98.05" y="513.60" width="13.45" height="18.30" fill="#fec20c"/>
<rect x="110.30" y="513.60" width="13.45" height="18.30" fill="#fec20c"/>
<rect x="122.55" y="513.60" width="13.45" height="18.30" fill="#fec20c"/>
<rect x="134.80" y="513.60" width="13.45" height="18.30" fill="#fec20c"/>
<rect x="147.05" y="513.60" width="13.45" height="18.30" fill="#fec20c"/>
<rect x="159.30" y="513.60" width="13.45" height="18.30" fill="#fec20c"/>
<rect x="171.55" y="513.60" width="14.25" height="18.30" fill="#fec20c"/>
<rect x="83.80" y="530.70" width="15.45" height="19.10" fill="#fec609"/>
<rect x="98.05" y="530.70" width="13.45" height="19.10" fill="#fec609"/>
<rect x="110.30" y="530.70" width="13.45" height="19.10" fill="#fec40b"/>
<rect x="122.55" y="530.70" width="13.45" height="19.10" fill="#fec40b"/>
<rect x="134.80" y="530.70" width="13.45" height="19.10" fill="#fec20c"/>
<rect x="147.05" y="530.70" width="13.45" height="19.10" fill="#fec20c"/>
<rect x="159.30" y="530.70" width="13.45" height="19.10" fill="#fec20c"/>
<rect x="171.55" y="530.70" width="14.25" height="19.10" fill="#fec00d"/>
</g>
<clipPath id="k31"><rect x="199.4" y="445.2" width="97.70" height="102.60"/></clipPath>
<g clip-path="url(#k31)" opacity="0.999">
<rect x="197.40" y="443.20" width="15.41" height="20.30" fill="#ffcb05"/>
<rect x="211.61" y="443.20" width="13.41" height="20.30" fill="#ffcb05"/>
<rect x="223.83" y="443.20" width="13.41" height="20.30" fill="#ffcb05"/>
<rect x="236.04" y="443.20" width="13.41" height="20.30" fill="#ffcb05"/>
<rect x="248.25" y="443.20" width="13.41" height="20.30" fill="#ffcb05"/>
<rect x="260.46" y="443.20" width="13.41" height="20.30" fill="#ffcb05"/>
<rect x="272.68" y="443.20" width="13.41" height="20.30" fill="#ffcb05"/>
<rect x="284.89" y="443.20" width="14.21" height="20.30" fill="#ffc708"/>
<rect x="197.40" y="462.30" width="15.41" height="18.30" fill="#ffdf00"/>
<rect x="211.61" y="462.30" width="13.41" height="18.30" fill="#ffdf00"/>
<rect x="223.83" y="462.30" width="13.41" height="18.30" fill="#ffdf00"/>
<rect x="236.04" y="462.30" width="13.41" height="18.30" fill="#ffdf00"/>
<rect x="248.25" y="462.30" width="13.41" height="18.30" fill="#ffd800"/>
<rect x="260.46" y="462.30" width="13.41" height="18.30" fill="#ffd800"/>
<rect x="272.68" y="462.30" width="13.41" height="18.30" fill="#ffd600"/>
<rect x="284.89" y="462.30" width="14.21" height="18.30" fill="#ffd400"/>
<rect x="197.40" y="479.40" width="15.41" height="18.30" fill="#ffdf00"/>
<rect x="211.61" y="479.40" width="13.41" height="18.30" fill="#ffdf00"/>
<rect x="223.83" y="479.40" width="13.41" height="18.30" fill="#ffd400"/>
<rect x="236.04" y="479.40" width="13.41" height="18.30" fill="#ffcf03"/>
<rect x="248.25" y="479.40" width="13.41" height="18.30" fill="#fec40b"/>
<rect x="260.46" y="479.40" width="13.41" height="18.30" fill="#fdbd10"/>
<rect x="272.68" y="479.40" width="13.41" height="18.30" fill="#fcb514"/>
<rect x="284.89" y="479.40" width="14.21" height="18.30" fill="#fbae17"/>
<rect x="197.40" y="496.50" width="15.41" height="18.30" fill="#ffdf00"/>
<rect x="211.61" y="496.50" width="13.41" height="18.30" fill="#ffcd04"/>
<rect x="223.83" y="496.50" width="13.41" height="18.30" fill="#fec40b"/>
<rect x="236.04" y="496.50" width="13.41" height="18.30" fill="#fdbb12"/>
<rect x="248.25" y="496.50" width="13.41" height="18.30" fill="#faa61a"/>
<rect x="260.46" y="496.50" width="13.41" height="18.30" fill="#f8991c"/>
<rect x="272.68" y="496.50" width="13.41" height="18.30" fill="#f68d1e"/>
<rect x="284.89" y="496.50" width="14.21" height="18.30" fill="#f58220"/>
<rect x="197.40" y="513.60" width="15.41" height="18.30" fill="#ffd800"/>
<rect x="211.61" y="513.60" width="13.41" height="18.30" fill="#fec609"/>
<rect x="223.83" y="513.60" width="13.41" height="18.30" fill="#fdb714"/>
<rect x="236.04" y="513.60" width="13.41" height="18.30" fill="#fbaa19"/>
<rect x="248.25" y="513.60" width="13.41" height="18.30" fill="#f7901e"/>
<rect x="260.46" y="513.60" width="13.41" height="18.30" fill="#f58220"/>
<rect x="272.68" y="513.60" width="13.41" height="18.30" fill="#f37121"/>
<rect x="284.89" y="513.60" width="14.21" height="18.30" fill="#f26921"/>
<rect x="197.40" y="530.70" width="15.41" height="19.10" fill="#ffcb05"/>
<rect x="211.61" y="530.70" width="13.41" height="19.10" fill="#febe0f"/>
<rect x="223.83" y="530.70" width="13.41" height="19.10" fill="#faa819"/>
<rect x="236.04" y="530.70" width="13.41" height="19.10" fill="#f7961d"/>
<rect x="248.25" y="530.70" width="13.41" height="19.10" fill="#f6871f"/>
<rect x="260.46" y="530.70" width="13.41" height="19.10" fill="#f37321"/>
<rect x="272.68" y="530.70" width="13.41" height="19.10" fill="#f15c22"/>
<rect x="284.89" y="530.70" width="14.21" height="19.10" fill="#f15522"/>
</g>
<clipPath id="k32"><rect x="315.9" y="445.2" width="97.20" height="102.60"/></clipPath>
<g clip-path="url(#k32)" opacity="0.999">
<rect x="313.90" y="443.20" width="15.35" height="20.30" fill="#ffd400"/>
<rect x="328.05" y="443.20" width="13.35" height="20.30" fill="#ffd400"/>
<rect x="340.20" y="443.20" width="13.35" height="20.30" fill="#ffd400"/>
<rect x="352.35" y="443.20" width="13.35" height="20.30" fill="#ffd400"/>
<rect x="364.50" y="443.20" width="13.35" height="20.30" fill="#ffd400"/>
<rect x="376.65" y="443.20" width="13.35" height="20.30" fill="#ffd400"/>
<rect x="388.80" y="443.20" width="13.35" height="20.30" fill="#ffd400"/>
<rect x="400.95" y="443.20" width="14.15" height="20.30" fill="#ffd400"/>
<rect x="313.90" y="462.30" width="15.35" height="18.30" fill="#f04b23"/>
<rect x="328.05" y="462.30" width="13.35" height="18.30" fill="#ef4123"/>
<rect x="340.20" y="462.30" width="13.35" height="18.30" fill="#ef3a23"/>
<rect x="352.35" y="462.30" width="13.35" height="18.30" fill="#ee3223"/>
<rect x="364.50" y="462.30" width="13.35" height="18.30" fill="#ed2324"/>
<rect x="376.65" y="462.30" width="13.35" height="18.30" fill="#ed2324"/>
<rect x="388.80" y="462.30" width="13.35" height="18.30" fill="#ed2324"/>
<rect x="400.95" y="462.30" width="14.15" height="18.30" fill="#ed2324"/>
<rect x="313.90" y="479.40" width="15.35" height="18.30" fill="#ed2324"/>
<rect x="328.05" y="479.40" width="13.35" height="18.30" fill="#ed2324"/>
<rect x="340.20" y="479.40" width="13.35" height="18.30" fill="#ed2324"/>
<rect x="352.35" y="479.40" width="13.35" height="18.30" fill="#ed2324"/>
<rect x="364.50" y="479.40" width="13.35" height="18.30" fill="#ed2324"/>
<rect x="376.65" y="479.40" width="13.35" height="18.30" fill="#ed2324"/>
<rect x="388.80" y="479.40" width="13.35" height="18.30" fill="#ed2324"/>
<rect x="400.95" y="479.40" width="14.15" height="18.30" fill="#ed2324"/>
<rect x="313.90" y="496.50" width="15.35" height="18.30" fill="#ed2024"/>
<rect x="328.05" y="496.50" width="13.35" height="18.30" fill="#ed2024"/>
<rect x="340.20" y="496.50" width="13.35" height="18.30" fill="#ed2024"/>
<rect x="352.35" y="496.50" width="13.35" height="18.30" fill="#ed2024"/>
<rect x="364.50" y="496.50" width="13.35" height="18.30" fill="#ed2024"/>
<rect x="376.65" y="496.50" width="13.35" height="18.30" fill="#ed2024"/>
<rect x="388.80" y="496.50" width="13.35" height="18.30" fill="#ed2024"/>
<rect x="400.95" y="496.50" width="14.15" height="18.30" fill="#ed2024"/>
<rect x="313.90" y="513.60" width="15.35" height="18.30" fill="#ed2024"/>
<rect x="328.05" y="513.60" width="13.35" height="18.30" fill="#ed2024"/>
<rect x="340.20" y="513.60" width="13.35" height="18.30" fill="#ed2024"/>
<rect x="352.35" y="513.60" width="13.35" height="18.30" fill="#ed2024"/>
<rect x="364.50" y="513.60" width="13.35" height="18.30" fill="#ed2024"/>
<rect x="376.65" y="513.60" width="13.35" height="18.30" fill="#ed2024"/>
<rect x="388.80" y="513.60" width="13.35" height="18.30" fill="#ed2024"/>
<rect x="400.95" y="513.60" width="14.15" height="18.30" fill="#ed2024"/>
<rect x="313.90" y="530.70" width="15.35" height="19.10" fill="#ed2024"/>
<rect x="328.05" y="530.70" width="13.35" height="19.10" fill="#ed2024"/>
<rect x="340.20" y="530.70" width="13.35" height="19.10" fill="#ed2024"/>
<rect x="352.35" y="530.70" width="13.35" height="19.10" fill="#ed2024"/>
<rect x="364.50" y="530.70" width="13.35" height="19.10" fill="#ed2024"/>
<rect x="376.65" y="530.70" width="13.35" height="19.10" fill="#ed2024"/>
<rect x="388.80" y="530.70" width="13.35" height="19.10" fill="#ed2024"/>
<rect x="400.95" y="530.70" width="14.15" height="19.10" fill="#ed2024"/>
</g>
<line x1="84.5" x2="87.1" y1="108.6" y2="108.6" stroke="#231f20" style="stroke-width:0.6px"/>
<line x1="84.5" x2="87.1" y1="193.3" y2="193.3" stroke="#231f20" style="stroke-width:0.6px"/>
<line x1="92.3" x2="92.3" y1="201.6" y2="205.0" stroke="#231f20" style="stroke-width:0.6px"/>
<line x1="177.7" x2="177.7" y1="201.6" y2="205.0" stroke="#231f20" style="stroke-width:0.6px"/>
<g style="filter:grayscale(1)">
<text x="291.6" y="22.5" font-size="7.1" style="stroke-width:0.2px" textLength="8.9" lengthAdjust="spacingAndGlyphs">0.0</text>
<text x="309.5" y="22.5" font-size="7.1" style="stroke-width:0.2px" textLength="8.9" lengthAdjust="spacingAndGlyphs">0.1</text>
<text x="327.4" y="22.5" font-size="7.1" style="stroke-width:0.2px" textLength="8.9" lengthAdjust="spacingAndGlyphs">0.2</text>
<text x="345.3" y="22.5" font-size="7.1" style="stroke-width:0.2px" textLength="8.9" lengthAdjust="spacingAndGlyphs">0.3</text>
<text x="363.2" y="22.5" font-size="7.1" style="stroke-width:0.2px" textLength="8.9" lengthAdjust="spacingAndGlyphs">0.4</text>
<text x="381.1" y="22.5" font-size="7.1" style="stroke-width:0.2px" textLength="8.9" lengthAdjust="spacingAndGlyphs">0.5</text>
<text x="399.0" y="22.5" font-size="7.1" style="stroke-width:0.2px" textLength="8.9" lengthAdjust="spacingAndGlyphs">0.6</text>
<text y="9" font-size="9" style="stroke-width:0.25px"><tspan x="336.4" font-style="italic">L</tspan><tspan x="340.7" y="11.9" font-size="4.6" style="stroke-width:0.1px" textLength="6.2" lengthAdjust="spacingAndGlyphs">(25)</tspan><tspan x="350.2" y="9">-</tspan><tspan x="354.2" y="9" font-style="italic">T</tspan><tspan x="359.4" y="11.9" font-size="4.6" style="stroke-width:0.1px" textLength="12.3" lengthAdjust="spacingAndGlyphs">MRCA</tspan></text>
<text x="89.1" y="57.6" font-size="8.8" style="stroke-width:0.28px" textLength="90.9" lengthAdjust="spacingAndGlyphs">Constant Population Size</text>
<text x="214.5" y="57.6" font-size="8.8" style="stroke-width:0.28px" textLength="68.6" lengthAdjust="spacingAndGlyphs">10-Fold Bottleneck</text>
<text x="328.3" y="57.6" font-size="8.8" style="stroke-width:0.28px" textLength="72.2" lengthAdjust="spacingAndGlyphs">100-Fold Bottleneck</text>
<text x="4.2" y="77" font-size="8.8" style="stroke-width:0.28px" textLength="49.8" lengthAdjust="spacingAndGlyphs">No admixture</text>
<text x="4.2" y="158.4" font-size="8.8" style="stroke-width:0.28px" textLength="51" lengthAdjust="spacingAndGlyphs">1% admixture</text>
<text x="4.2" y="266.7" font-size="8.8" style="stroke-width:0.28px" textLength="51" lengthAdjust="spacingAndGlyphs">5% admixture</text>
<text x="4.2" y="383.2" font-size="8.8" style="stroke-width:0.28px" textLength="55.7" lengthAdjust="spacingAndGlyphs">25% admixture</text>
<text x="4.2" y="496.9" font-size="8.8" style="stroke-width:0.28px" textLength="55.7" lengthAdjust="spacingAndGlyphs">50% admixture</text>
<text x="70.3" y="111.2" font-size="7.1" style="stroke-width:0.2px" textLength="12.1" lengthAdjust="spacingAndGlyphs">0.01</text>
<text x="70.3" y="195.9" font-size="7.1" style="stroke-width:0.2px" textLength="12.1" lengthAdjust="spacingAndGlyphs">0.06</text>
<text x="88.2" y="212.5" font-size="7.1" style="stroke-width:0.2px" textLength="8.8" lengthAdjust="spacingAndGlyphs">0.6</text>
<text x="173.2" y="212.5" font-size="7.1" style="stroke-width:0.2px" textLength="8.8" lengthAdjust="spacingAndGlyphs">2.0</text>
<text x="111.1" y="210.1" font-size="7.4" style="stroke-width:0.2px" textLength="50.6" lengthAdjust="spacingAndGlyphs">Divergence Time</text>
<text transform="translate(83.3,175.9) rotate(-90)" font-size="7.4" style="stroke-width:0.2px" textLength="49" lengthAdjust="spacingAndGlyphs">Admixture Time</text>
</g>
</svg></body></html>
